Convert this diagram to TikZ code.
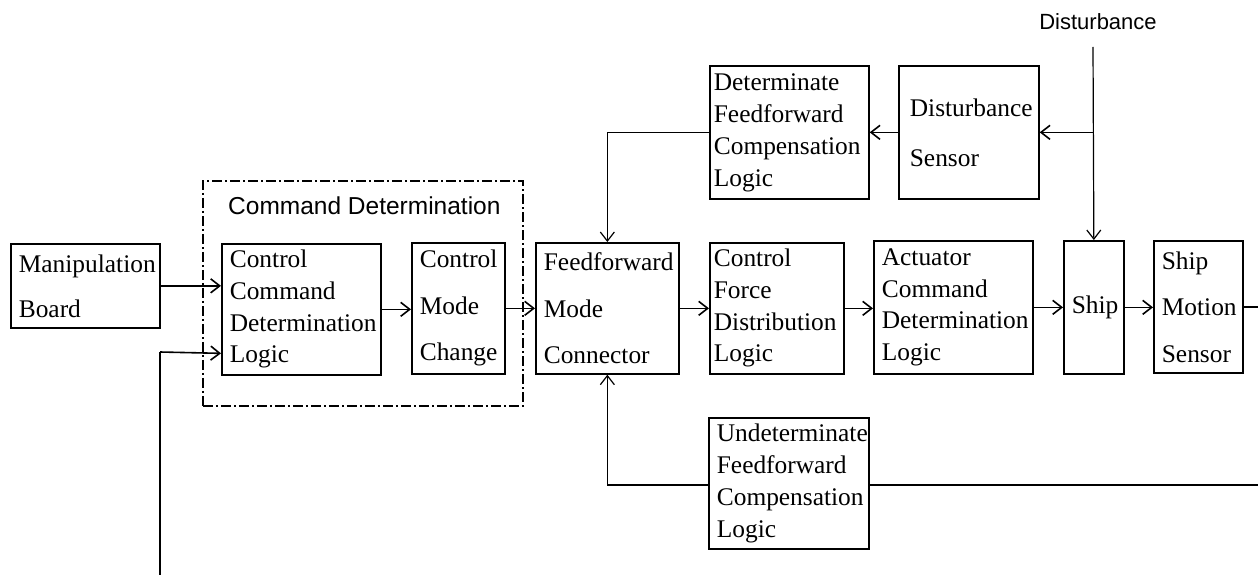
\documentclass[tikz,border=0pt]{standalone}
\usepackage{fontspec}
\setmainfont{Liberation Serif}
\newfontfamily\lblfont{Liberation Sans}
\usetikzlibrary{arrows.meta}
\newcommand\bxfont[1]{\fontsize{25.4}{#1}\selectfont}
\begin{document}
\begin{tikzpicture}[x=1pt,y=-1pt,
  box/.style={draw, line width=1.7pt, rectangle, anchor=north west, align=left,
              inner xsep=8pt, inner ysep=0pt, fill=white},
  conn/.style={line width=1.6pt},
  thin/.style={line width=1.2pt},
  arr/.style={conn, -{Straight Barb[length=9pt,width=14pt]}},
  tarr/.style={thin, -{Straight Barb[length=9pt,width=14pt]}},
  frame/.style={draw, line width=1.5pt, dash pattern=on 10pt off 3pt on 2pt off 3pt,
                anchor=north west, inner sep=0pt},
  lbl/.style={inner sep=0pt, font=\lblfont\fontsize{#1}{#1}\selectfont},
]
\useasboundingbox (0,0) rectangle (1258,575);

% command determination group
\node[frame, minimum width=320pt, minimum height=225pt] (cdframe) at (202,180) {};
\node[lbl=24.5, anchor=west] (cdlabel) at (228,206) {Command Determination};

% main chain
\node[box, minimum width=149pt, minimum height=84pt, text width=133pt, font=\bxfont{45}]
  (mb) at (10,243) {Manipulation\\Board};
\node[box, minimum width=159pt, minimum height=131pt, text width=143pt, font=\bxfont{31.7}]
  (ccdl) at (221,243) {Control\\Command\\Determination\\Logic};
\node[box, minimum width=93pt, minimum height=131pt, text width=77pt, font=\bxfont{46.5}]
  (cmc) at (411,242) {Control\\Mode\\Change};
\node[box, minimum width=143pt, minimum height=131pt, text width=127pt, font=\bxfont{46.5}]
  (fmc) at (535,242) {Feedforward\\Mode\\Connector};
\node[box, inner xsep=4pt, minimum width=134pt, minimum height=131pt, text width=126pt, font=\bxfont{31.7}]
  (cfdl) at (709,242) {Control\\Force\\Distribution\\Logic};
\node[box, minimum width=159pt, minimum height=133pt, text width=143pt, font=\bxfont{31.7}]
  (acdl) at (873,240) {Actuator\\Command\\Determination\\Logic};
\node[box, minimum width=60pt, minimum height=133pt, text width=44pt, font=\bxfont{30}]
  (ship) at (1063,240) {Ship};
\node[box, minimum width=89pt, minimum height=132pt, text width=73pt, font=\bxfont{46.5}]
  (sms) at (1153,240) {Ship\\Motion\\Sensor};

% disturbance path
\node[box, inner xsep=11pt, minimum width=140pt, minimum height=133pt, text width=118pt, font=\bxfont{50}]
  (ds) at (898,65) {Disturbance\\Sensor};
\node[box, inner xsep=4pt, minimum width=159pt, minimum height=133pt, text width=151pt, font=\bxfont{32}]
  (dfcl) at (709,65) {Determinate\\Feedforward\\Compensation\\Logic};
\node[lbl=22] (dlabel) at (1098,22) {Disturbance};

% free ends
\coordinate (dtop) at (1093,47);
\coordinate (ext) at (160,575);
\coordinate (out) at (1258,308);
\coordinate (fbr) at (1258,485);

% connectors
\draw[arr] (mb.east) -- (mb.east -| ccdl.west);
\draw[thin] (ext) -- (ext |- 0,352);
\draw[arr] (ext |- 0,352) -- ([yshift=-44pt]ccdl.west);
\draw[arr] (ccdl.east) -- (ccdl.east -| cmc.west);
\draw[arr] (cmc.east) -- (cmc.east -| fmc.west);
\draw[arr] (fmc.east) -- (fmc.east -| cfdl.west);
\draw[arr] (cfdl.east) -- (cfdl.east -| acdl.west);
\draw[arr] (acdl.east) -- (acdl.east -| ship.west);
\draw[arr] (ship.east) -- (ship.east -| sms.west);
\draw[conn] (sms.east) -- (out |- sms.east);
\draw[tarr] (dtop) -- (ship.north);
\draw[arr] (ship.north |- ds.east) -- (ds.east);
\draw[arr] (ds.west) -- (dfcl.east);
\draw[conn] (dfcl.west) -- (dfcl.west -| fmc.north);
\draw[tarr] (dfcl.west -| fmc.north) -- (fmc.north);
\draw[conn] (fbr) -- (fbr -| fmc.south);
\draw[tarr] (fbr -| fmc.south) -- (fmc.south);

% feedback compensation block, over the return line
\node[box, minimum width=160pt, minimum height=131pt, text width=144pt, font=\bxfont{32}]
  (ufcl) at (708,417) {Undeterminate\\Feedforward\\Compensation\\Logic};
\end{tikzpicture}
\end{document}
